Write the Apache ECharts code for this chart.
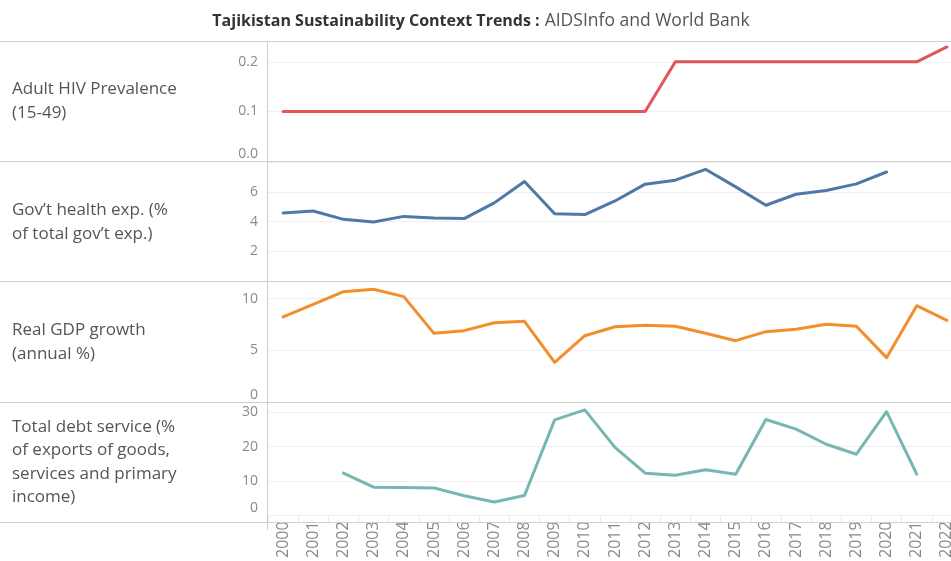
<!DOCTYPE html>
<html>
<head>
<meta charset="utf-8">
<script src="https://cdn.jsdelivr.net/npm/echarts@6/dist/echarts.min.js"></script>
<style>html,body{margin:0;padding:0;background:#fff;overflow:hidden}#c{width:962px;height:561px}</style>
</head>
<body>
<div id="c"></div>
<script>
var years = ['2000','2001','2002','2003','2004','2005','2006','2007','2008','2009','2010','2011','2012','2013','2014','2015','2016','2017','2018','2019','2020','2021','2022'];
var hivPrevalence = [0.1,0.1,0.1,0.1,0.1,0.1,0.1,0.1,0.1,0.1,0.1,0.1,0.1,0.2,0.2,0.2,0.2,0.2,0.2,0.2,0.2,0.2,0.23];
var govHealthExp = [4.58,4.71,4.15,3.97,4.35,4.24,4.2,5.26,6.7,4.53,4.47,5.39,6.52,6.79,7.52,6.34,5.1,5.84,6.09,6.54,7.34,null,null];
var gdpGrowth = [8.22,9.45,10.67,10.9,10.19,6.64,6.9,7.67,7.8,3.84,6.41,7.28,7.41,7.32,6.64,5.93,6.8,7.03,7.51,7.32,4.29,9.31,7.9];
var debtService = [null,null,12.3,8.2,8.1,8.0,5.7,3.9,5.8,27.8,30.7,19.8,12.3,11.7,13.3,12.0,27.9,25.1,20.7,17.8,30.2,12.0,null];
var rowLabels = [
  ['Adult HIV Prevalence','(15-49)'],
  ['Gov\u2019t health exp. (%','of total gov\u2019t exp.)'],
  ['Real GDP growth','(annual %)'],
  ['Total debt service (%','of exports of goods,','services and primary','income)']
];
var axisTicks = [
  {min:0, max:0.242, interval:0.1, labels:[0,0.1,0.2]},
  {min:0, max:8.08, interval:2, labels:[2,4,6]},
  {min:0, max:11.7, interval:5, labels:[0,5,10]},
  {min:0, max:33, interval:10, labels:[0,10,20,30]}
];
var seriesData = [hivPrevalence, govHealthExp, gdpGrowth, debtService];
var colors = ['#e15759','#4e79a7','#f28e2b','#76b7b2'];

var FONT = '"Open Sans", sans-serif';
var rows = [{top:41,h:120},{top:161,h:120},{top:281,h:121},{top:402,h:120}];
var labelCenters = [[89,113],[210,234],[330,354],[427,450,474,497]];

var chart = echarts.init(document.getElementById('c'));
var grids=[], xAxes=[], yAxes=[], series=[], graphics=[];
rows.forEach(function(r,i){
  grids.push({left:268, width:694, top:r.top, height:r.h});
  xAxes.push({
    type:'category', gridIndex:i, data:years, boundaryGap:true,
    axisLine:{show:false},
    axisTick:{show:i===3, length:8, lineStyle:{color:'#e8e8e8'}},
    axisLabel:{show:i===3, rotate:90, color:'#8a8a8a', fontSize:16, fontFamily:FONT, margin:6, interval:0},
    splitLine:{show:false}
  });
  var t = axisTicks[i];
  yAxes.push({
    type:'value', gridIndex:i, min:t.min, max:t.max, interval:t.interval,
    axisLine:{show:false}, axisTick:{show:false},
    axisLabel:{
      color:'#8a8a8a', fontSize:14, fontFamily:FONT, margin:10,
      showMaxLabel:false,
      verticalAlignMinLabel:'bottom',
      formatter: (function(tk, idx){
        return function(v){
          var ok = tk.labels.some(function(l){return Math.abs(l-v)<1e-9;});
          if(!ok) return '';
          return idx===0 ? v.toFixed(1) : String(v);
        };
      })(t, i)
    },
    splitLine:{show:true, lineStyle:{color:'#efefef', width:1}}
  });
  series.push({
    type:'line', xAxisIndex:i, yAxisIndex:i, data:seriesData[i],
    symbol:'none', connectNulls:false,
    lineStyle:{color:colors[i], width:3, cap:'round', join:'round'},
    itemStyle:{color:colors[i]}
  });
  rowLabels[i].forEach(function(txt,j){
    graphics.push({type:'text', x:12, y:labelCenters[i][j],
      style:{text:txt, fill:'#555555', font:'17px '+FONT, verticalAlign:'middle', align:'left'}});
  });
});
[41,161,281,402,522].forEach(function(y){
  graphics.push({type:'line', shape:{x1:0,y1:y+0.5,x2:962,y2:y+0.5}, style:{stroke:'#cfcfcf', lineWidth:1}, z:10});
});
graphics.push({type:'line', shape:{x1:267.5,y1:41,x2:267.5,y2:530}, style:{stroke:'#cfcfcf', lineWidth:1}, z:10});

chart.setOption({
  animation:false,
  title:{
    text:'{b|Tajikistan Sustainability Context Trends :} {n|AIDSInfo and World Bank}',
    left:'center', top:7,
    textStyle:{fontWeight:'normal', rich:{
      b:{fontFamily:FONT, fontWeight:'bold', fontSize:16, color:'#333333'},
      n:{fontFamily:FONT, fontWeight:'normal', fontSize:17.5, color:'#555555'}
    }}
  },
  grid:grids, xAxis:xAxes, yAxis:yAxes, series:series,
  graphic:graphics
});
</script>
</body>
</html>
